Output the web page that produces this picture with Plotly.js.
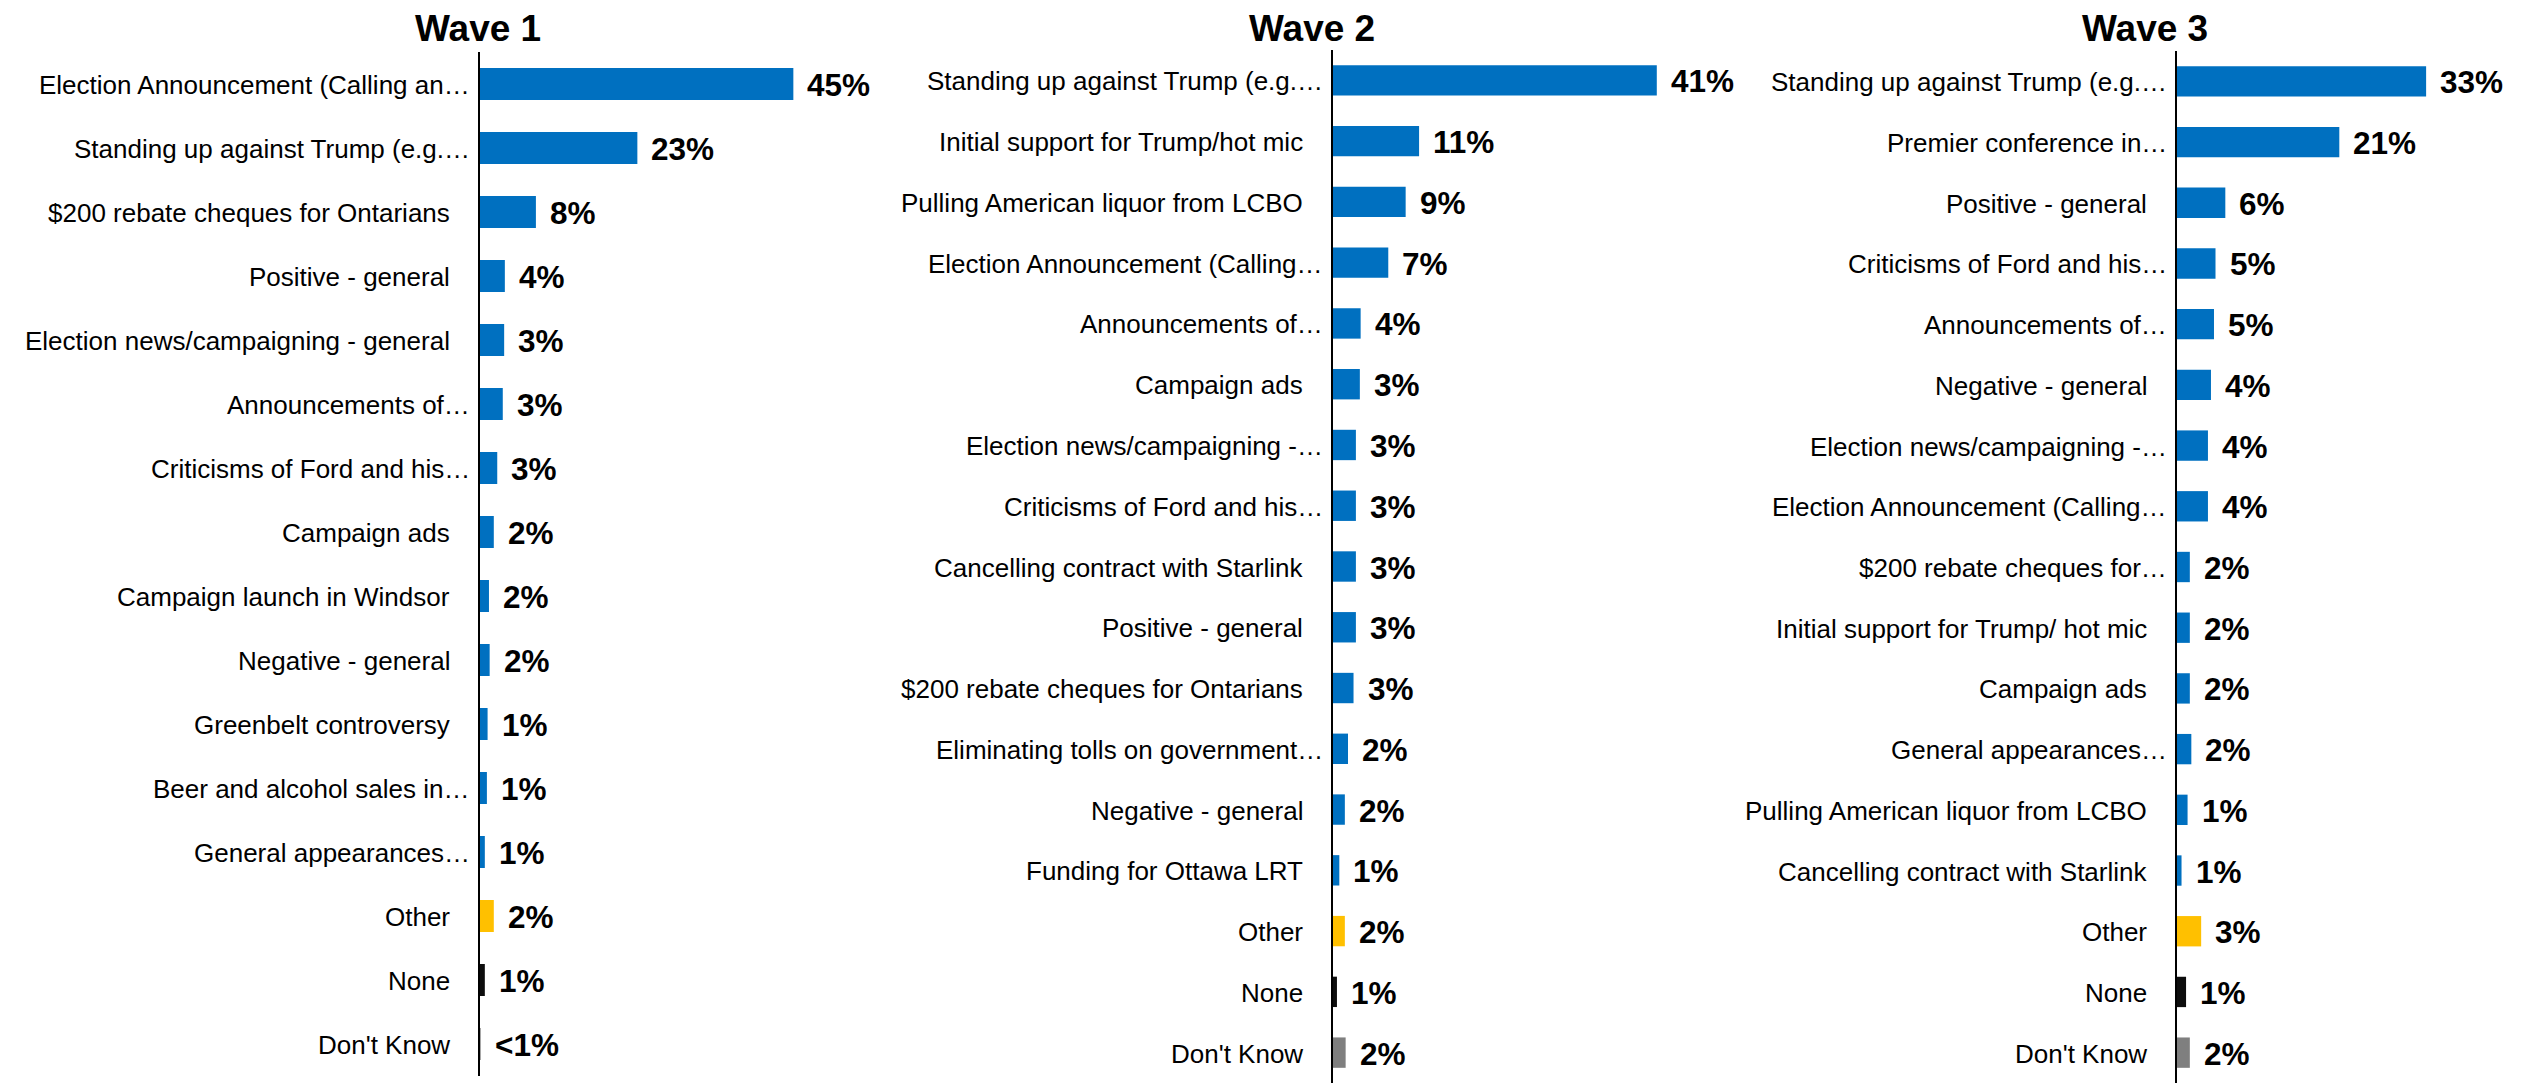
<!DOCTYPE html>
<html><head><meta charset="utf-8">
<script src="https://cdn.plot.ly/plotly-3.0.1.min.js"></script>
<style>html,body{margin:0;padding:0;background:#fff}#chart{width:2522px;height:1088px}</style>
</head><body><div id="chart"></div>
<script>
// ---------- DATA ----------
const waveTitles = ["Wave 1", "Wave 2", "Wave 3"];

const wave1Categories = ["Election Announcement (Calling an…", "Standing up against Trump (e.g.…", "$200 rebate cheques for Ontarians", "Positive - general", "Election news/campaigning - general", "Announcements of…", "Criticisms of Ford and his…", "Campaign ads", "Campaign launch in Windsor", "Negative - general", "Greenbelt controversy", "Beer and alcohol sales in…", "General appearances…", "Other", "None", "Don't Know"];
const wave1Values = [45.4, 22.8, 8.1, 3.6, 3.5, 3.3, 2.5, 2.0, 1.3, 1.4, 1.1, 1.0, 0.7, 2.0, 0.7, 0.1];
const wave1Labels = ["45%", "23%", "8%", "4%", "3%", "3%", "3%", "2%", "2%", "2%", "1%", "1%", "1%", "2%", "1%", "<1%"];

const wave2Categories = ["Standing up against Trump (e.g.…", "Initial support for Trump/hot mic", "Pulling American liquor from LCBO", "Election Announcement (Calling…", "Announcements of…", "Campaign ads", "Election news/campaigning -…", "Criticisms of Ford and his…", "Cancelling contract with Starlink", "Positive - general", "$200 rebate cheques for Ontarians", "Eliminating tolls on government…", "Negative - general", "Funding for Ottawa LRT", "Other", "None", "Don't Know"];
const wave2Values = [41.0, 10.9, 9.2, 7.0, 3.5, 3.4, 2.9, 2.9, 2.9, 2.9, 2.6, 1.9, 1.5, 0.8, 1.5, 0.5, 1.6];
const wave2Labels = ["41%", "11%", "9%", "7%", "4%", "3%", "3%", "3%", "3%", "3%", "3%", "2%", "2%", "1%", "2%", "1%", "2%"];

const wave3Categories = ["Standing up against Trump (e.g.…", "Premier conference in…", "Positive - general", "Criticisms of Ford and his…", "Announcements of…", "Negative - general", "Election news/campaigning -…", "Election Announcement (Calling…", "$200 rebate cheques for…", "Initial support for Trump/ hot mic", "Campaign ads", "General appearances…", "Pulling American liquor from LCBO", "Cancelling contract with Starlink", "Other", "None", "Don't Know"];
const wave3Values = [33.0, 21.5, 6.4, 5.1, 4.9, 4.5, 4.1, 4.1, 1.7, 1.7, 1.7, 1.9, 1.4, 0.6, 3.2, 1.2, 1.7];
const wave3Labels = ["33%", "21%", "6%", "5%", "5%", "4%", "4%", "4%", "2%", "2%", "2%", "2%", "1%", "1%", "3%", "1%", "2%"];

// ---------- LAYOUT / STYLE ----------
const W = 2522, H = 1088;
const FONT = '"Liberation Sans", Arial, sans-serif';
const panels = [
  {cats: wave1Categories, vals: wave1Values, text: wave1Labels, title: waveTitles[0],
   xPx: [480, 832], xMax: 51.0, yPx: [52, 1076], titleX: 478},
  {cats: wave2Categories, vals: wave2Values, text: wave2Labels, title: waveTitles[1],
   xPx: [1333, 1765], xMax: 54.7, yPx: [50, 1083], titleX: 1312},
  {cats: wave3Categories, vals: wave3Values, text: wave3Labels, title: waveTitles[2],
   xPx: [2177, 2522], xMax: 45.7, yPx: [51, 1083], titleX: 2145}
];

function barColor(c) {
  if (c === "Other") return "#FFC000";
  if (c === "None") return "#0D0D0D";
  if (c === "Don't Know") return "#7F7F7F";
  return "#0070C0";
}

const data = [];
const annotations = [];
const layout = {
  width: W, height: H,
  margin: {l: 0, r: 0, t: 0, b: 0},
  paper_bgcolor: "#fff", plot_bgcolor: "rgba(0,0,0,0)",
  showlegend: false,
  bargap: 0.5,
  font: {family: FONT, color: "#000"},
  annotations: annotations
};

panels.forEach((p, i) => {
  const n = i + 1;
  const xa = n === 1 ? "xaxis" : "xaxis" + n;
  const ya = n === 1 ? "yaxis" : "yaxis" + n;
  const xr = n === 1 ? "x" : "x" + n;
  const yr = n === 1 ? "y" : "y" + n;

  data.push({
    type: "bar", orientation: "h",
    x: p.vals, y: p.cats,
    xaxis: xr, yaxis: yr,
    marker: {color: p.cats.map(barColor), line: {width: 0}},
    hoverinfo: "skip"
  });

  layout[xa] = {
    domain: [p.xPx[0] / W, p.xPx[1] / W],
    range: [0, p.xMax],
    visible: false, fixedrange: true, anchor: yr
  };
  layout[ya] = {
    domain: [1 - p.yPx[1] / H, 1 - p.yPx[0] / H],
    type: "category",
    categoryarray: p.cats, categoryorder: "array",
    autorange: "reversed",
    showticklabels: false, ticks: "",
    showgrid: false, zeroline: false,
    showline: true, linecolor: "#000", linewidth: 2,
    anchor: xr, fixedrange: true
  };

  p.cats.forEach((c, j) => {
    const truncated = c.endsWith("…");
    annotations.push({
      xref: xr, yref: yr, x: 0, y: c,
      text: c, showarrow: false,
      xanchor: "right", yanchor: "middle",
      xshift: truncated ? -8 : -28, yshift: -1,
      font: {family: FONT, size: 26, color: "#000"}
    });
    annotations.push({
      xref: xr, yref: yr, x: p.vals[j], y: c,
      text: p.text[j], showarrow: false,
      xanchor: "left", yanchor: "middle",
      xshift: 12, yshift: -1,
      font: {family: FONT, size: 31.5, color: "#000", weight: "bold"}
    });
  });

  annotations.push({
    xref: "paper", yref: "paper",
    x: p.titleX / W, y: 1 - 28 / H,
    text: "<b>" + p.title + "</b>", showarrow: false,
    xanchor: "center", yanchor: "middle",
    font: {family: FONT, size: 37, color: "#000"}
  });
});

Plotly.newPlot("chart", data, layout, {staticPlot: true, displayModeBar: false});
</script>
</body></html>
